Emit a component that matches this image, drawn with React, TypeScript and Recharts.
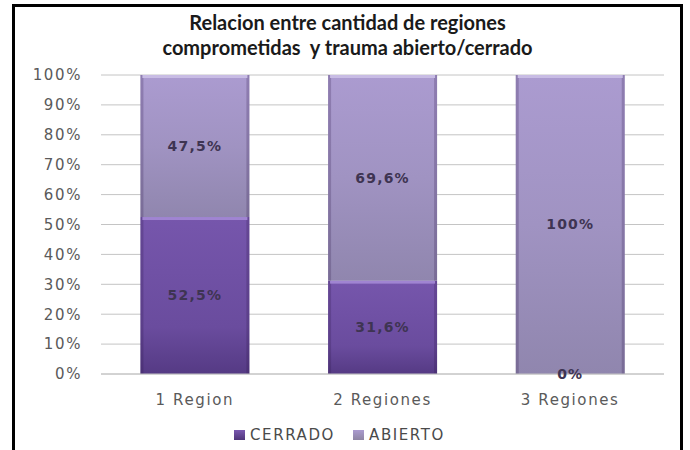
import { BarChart, Bar, XAxis, YAxis, CartesianGrid, Legend, LabelList } from 'recharts';

const categories = ['1 Region', '2 Regiones', '3 Regiones'];
const cerrado = [52.5, 31.6, 0];
const abierto = [47.5, 69.6, 100];
const yTicks = [0, 0.1, 0.2, 0.3, 0.4, 0.5, 0.6, 0.7, 0.8, 0.9, 1];

const data = categories.map((name, i) => ({
  name,
  cerrado: cerrado[i],
  abierto: abierto[i],
}));

const axisFont = { fontFamily: 'DejaVu Sans', fontSize: 15, fill: '#5a5a5a', letterSpacing: 1.6 };
const labelFont = { fontFamily: 'DejaVu Sans', fontSize: 14, fontWeight: 'bold', fill: '#3e3452', letterSpacing: 1.2 };

const fmtPct = (v: any) => `${String(v).replace('.', ',')}%`;

// bevelled segment, a bit like the old office 3d look
const BevelBar = (props: any) => {
  const { x, y, width, height, fill, highlight } = props;
  if (!height || height <= 0) return null;
  return (
    <g>
      <rect x={x} y={y} width={width} height={height} fill={fill} />
      <rect x={x} y={y} width={3} height={height} fill="rgba(40,20,70,0.22)" />
      <rect x={x + width - 3} y={y} width={3} height={height} fill="rgba(40,20,70,0.22)" />
      <rect x={x + 2} y={y} width={width - 4} height={3} fill={highlight} />
    </g>
  );
};

const LegendContent = () => (
  <div style={{ display: 'flex', justifyContent: 'center', gap: 18, fontFamily: 'DejaVu Sans', fontSize: 15, color: '#4a4a4a', letterSpacing: 1.6 }}>
    <span style={{ display: 'flex', alignItems: 'center', gap: 5 }}>
      <span style={{ width: 11, height: 10, background: 'linear-gradient(#7a58b0, #4f3579)', display: 'inline-block' }} />
      CERRADO
    </span>
    <span style={{ display: 'flex', alignItems: 'center', gap: 5 }}>
      <span style={{ width: 11, height: 10, background: 'linear-gradient(#ab9bd0, #8e85a3)', display: 'inline-block' }} />
      ABIERTO
    </span>
  </div>
);

export default function App() {
  return (
    <div
      style={{
        position: 'absolute',
        left: 12,
        top: 4,
        width: 671,
        height: 446,
        border: '3px solid #000',
        borderBottom: 'none',
        boxSizing: 'border-box',
        background: '#fff',
        overflow: 'hidden',
      }}
    >
      <div
        style={{
          position: 'absolute',
          left: 0,
          right: 0,
          top: 3,
          textAlign: 'center',
          fontFamily: 'Lato',
          fontWeight: 'bold',
          fontSize: 20,
          lineHeight: '25px',
          color: '#1a1a1a',
        }}
      >
        Relacion entre cantidad de regiones
        <br />
        comprometidas&nbsp; y trauma abierto/cerrado
      </div>
      <BarChart
        width={665}
        height={443}
        data={data}
        stackOffset="expand"
        barCategoryGap="21%"
        margin={{ top: 68, right: 16, left: 0, bottom: 16 }}
      >
        <defs>
          <linearGradient id="gCerrado" x1="0" y1="0" x2="0" y2="1">
            <stop offset="0%" stopColor="#7656ac" />
            <stop offset="70%" stopColor="#6a4c9e" />
            <stop offset="100%" stopColor="#553a84" />
          </linearGradient>
          <linearGradient id="gAbierto" x1="0" y1="0" x2="0" y2="1">
            <stop offset="0%" stopColor="#ab9bd0" />
            <stop offset="50%" stopColor="#a093c2" />
            <stop offset="100%" stopColor="#9086ae" />
          </linearGradient>
        </defs>
        <CartesianGrid vertical={false} stroke="#c4c4c4" />
        <XAxis
          dataKey="name"
          height={30}
          tickLine={false}
          axisLine={{ stroke: '#c4c4c4' }}
          tickMargin={14}
          tick={axisFont}
        />
        <YAxis
          width={86}
          domain={[0, 1]}
          ticks={yTicks}
          tickLine={false}
          axisLine={false}
          tickMargin={13}
          tickFormatter={(v: number) => `${Math.round(v * 100)}%`}
          tick={axisFont}
        />
        <Legend verticalAlign="bottom" height={30} content={<LegendContent />} wrapperStyle={{ top: 419, bottom: 'auto' }} />
        <Bar
          dataKey="cerrado"
          name="CERRADO"
          stackId="a"
          fill="url(#gCerrado)"
          shape={(p: any) => <BevelBar {...p} highlight="#a084d2" />}
          isAnimationActive={false}
        >
          <LabelList dataKey="cerrado" position="center" formatter={fmtPct} style={labelFont} />
        </Bar>
        <Bar
          dataKey="abierto"
          name="ABIERTO"
          stackId="a"
          fill="url(#gAbierto)"
          shape={(p: any) => <BevelBar {...p} highlight="#c8bce4" />}
          isAnimationActive={false}
        >
          <LabelList dataKey="abierto" position="center" formatter={fmtPct} style={labelFont} />
        </Bar>
      </BarChart>
    </div>
  );
}
